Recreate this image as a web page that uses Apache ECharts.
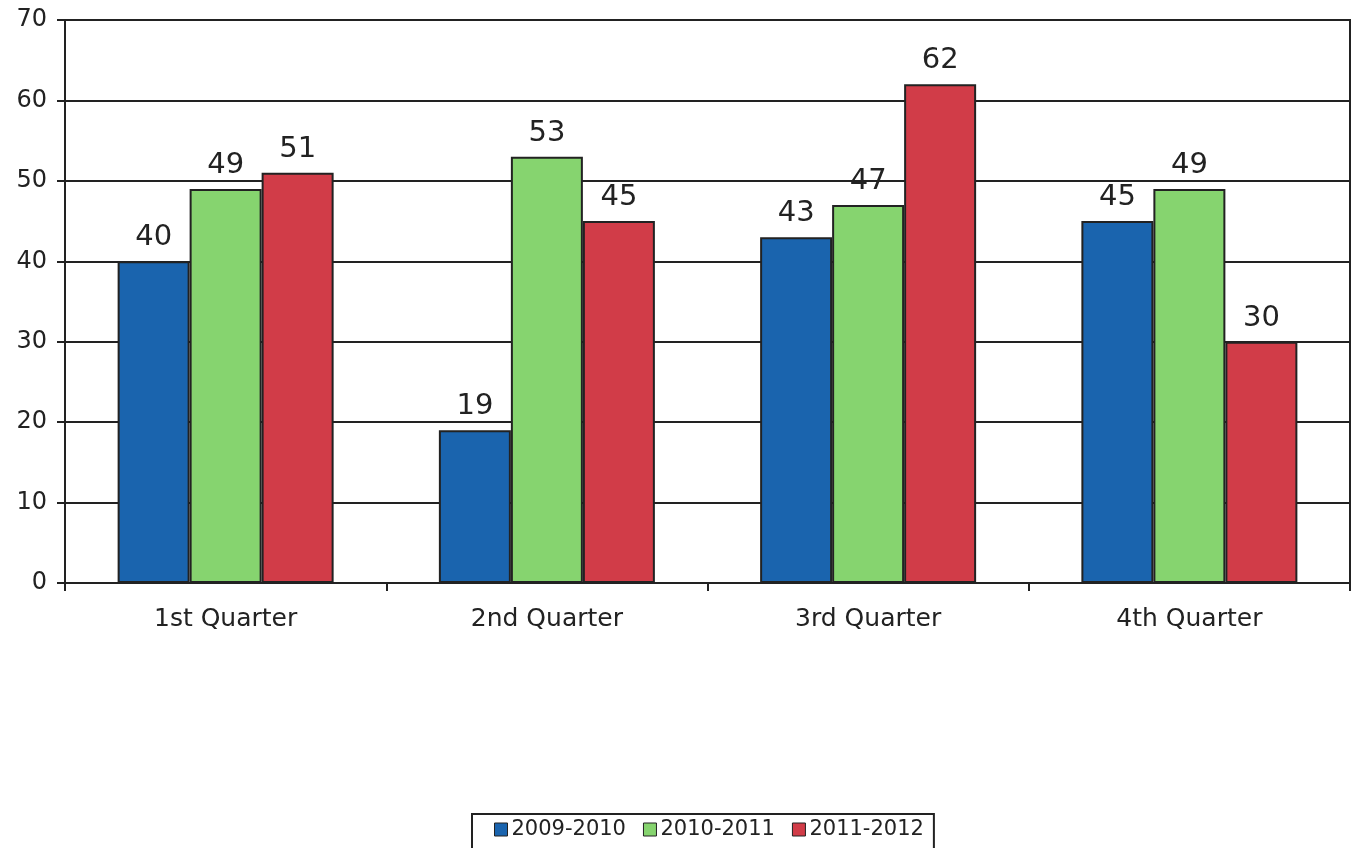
<!DOCTYPE html>
<html>
<head>
<meta charset="utf-8">
<script src="https://cdn.jsdelivr.net/npm/echarts@6/dist/echarts.min.js"></script>
<style>
  html, body { margin: 0; padding: 0; background: #fff; }
  #chart { width: 1355px; height: 848px; }
</style>
</head>
<body>
<div id="chart"></div>
<script>
// Quarterly figures by school year
const quarters = ['1st Quarter', '2nd Quarter', '3rd Quarter', '4th Quarter'];
const seriesNames = ['2009-2010', '2010-2011', '2011-2012'];
const values2009 = [40, 19, 43, 45];
const values2010 = [49, 53, 47, 49];
const values2011 = [51, 45, 62, 30];
const yTicks = [0, 10, 20, 30, 40, 50, 60, 70];

const colors = ['#1a64ae', '#86d46f', '#d13c48'];
const ink = '#222222';
const font = 'DejaVu Sans';

const chart = echarts.init(document.getElementById('chart'), null, { renderer: 'canvas' });

function barSeries(name, data, color) {
  return {
    name: name,
    type: 'bar',
    data: data,
    barWidth: 72,
    barGap: '0%',
    itemStyle: { color: color, borderColor: ink, borderWidth: 2 },
    label: {
      show: true,
      position: 'top',
      distance: 9,
      fontFamily: font,
      fontSize: 29,
      color: ink
    }
  };
}

chart.setOption({
  animation: false,
  backgroundColor: '#ffffff',
  grid: {
    left: 65, right: 5, top: 20, bottom: 265,
    show: true, borderColor: ink, borderWidth: 2,
    backgroundColor: 'transparent'
  },
  legend: {
    data: seriesNames,
    top: 814,
    left: 472,
    padding: [5, 10, 14, 22],
    itemGap: 17,
    itemWidth: 13,
    itemHeight: 13,
    borderColor: ink,
    borderWidth: 2,
    icon: 'rect',
    itemStyle: { borderColor: ink, borderWidth: 1 },
    textStyle: { fontFamily: font, fontSize: 21, color: ink, padding: [0, 0, 0, -1] }
  },
  xAxis: {
    type: 'category',
    data: quarters,
    axisLine: { show: true, lineStyle: { color: ink, width: 2 } },
    axisTick: { show: true, length: 8, lineStyle: { color: ink, width: 2 } },
    axisLabel: { fontFamily: font, fontSize: 25, color: ink, margin: 24 },
    splitLine: { show: false }
  },
  yAxis: {
    type: 'value',
    min: yTicks[0],
    max: yTicks[yTicks.length - 1],
    interval: yTicks[1] - yTicks[0],
    axisLine: { show: true, lineStyle: { color: ink, width: 2 } },
    axisTick: { show: true, length: 8, lineStyle: { color: ink, width: 2 } },
    axisLabel: { fontFamily: font, fontSize: 24, color: ink, margin: 18 },
    splitLine: { show: true, lineStyle: { color: ink, width: 2 } }
  },
  series: [
    barSeries(seriesNames[0], values2009, colors[0]),
    barSeries(seriesNames[1], values2010, colors[1]),
    barSeries(seriesNames[2], values2011, colors[2])
  ]
});
</script>
</body>
</html>
